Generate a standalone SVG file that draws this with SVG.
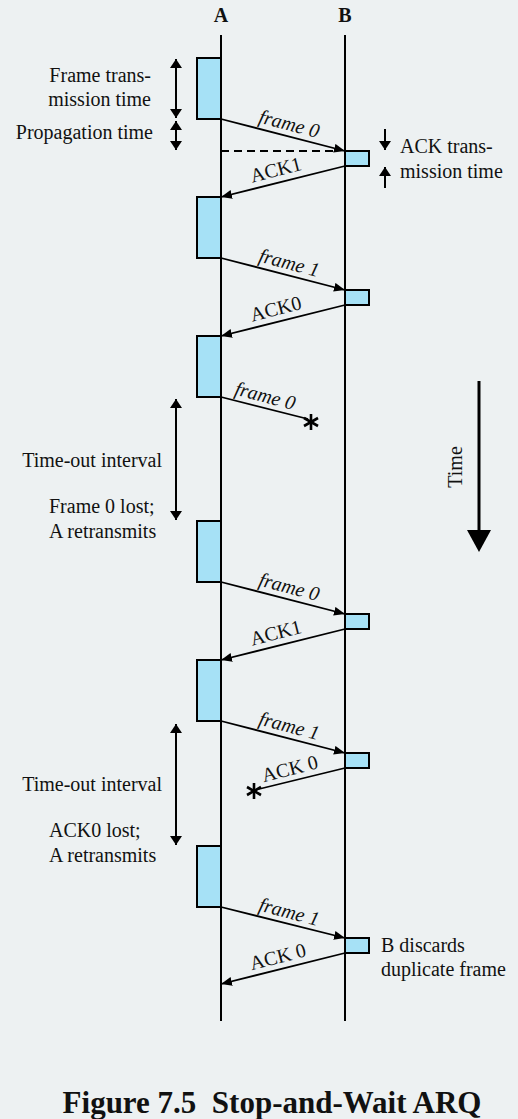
<svg xmlns="http://www.w3.org/2000/svg" width="518" height="1119" viewBox="0 0 518 1119" font-family="Liberation Serif, Times New Roman, serif">
<defs>
<style>
text{font-family:'Liberation Serif','Times New Roman',serif;fill:#111;font-size:20px}
.hd{font-weight:bold;text-anchor:middle}
.lab{font-style:italic;text-anchor:middle}
.ack{text-anchor:middle}
.r{text-anchor:end}
.ln{stroke:#000;stroke-width:2;fill:none}
.box{fill:#A6E1F6;stroke:#000;stroke-width:2}
.msg{stroke:#000;stroke-width:1.8;fill:none;marker-end:url(#ah)}
.dim{stroke:#000;stroke-width:2;fill:none;marker-start:url(#dh);marker-end:url(#dh)}
.one{stroke:#000;stroke-width:2;fill:none;marker-end:url(#dh)}
.star{stroke:#000;stroke-width:2.6;fill:none}
</style>
<marker id="ah" markerUnits="userSpaceOnUse" markerWidth="12" markerHeight="10" refX="11" refY="4.5" orient="auto-start-reverse">
<path d="M0,0 L11,4.5 L0,9 Z" fill="#000"/>
</marker>
<marker id="dh" markerUnits="userSpaceOnUse" markerWidth="10" markerHeight="13" refX="9" refY="6" orient="auto-start-reverse">
<path d="M0,0 L9,6 L0,12 Z" fill="#000"/>
</marker>
</defs>
<rect width="518" height="1119" fill="#EDF1F2"/>

<g id="station-A">
<text class="hd" x="221" y="22">A</text>
<line class="ln" x1="221" y1="35" x2="221" y2="1021"/>
</g>
<g id="station-B">
<text class="hd" x="345" y="22">B</text>
<line class="ln" x1="345" y1="35" x2="345" y2="1021"/>
</g>

<g id="A-frames">
<rect class="box" x="197" y="58" width="24" height="61"/>
<rect class="box" x="197" y="197" width="24" height="61"/>
<rect class="box" x="197" y="336" width="24" height="61"/>
<rect class="box" x="197" y="521" width="24" height="61"/>
<rect class="box" x="197" y="660" width="24" height="61"/>
<rect class="box" x="197" y="846" width="24" height="61"/>
</g>
<g id="B-acks">
<rect class="box" x="345" y="151" width="24" height="15"/>
<rect class="box" x="345" y="290" width="24" height="15"/>
<rect class="box" x="345" y="614" width="24" height="15"/>
<rect class="box" x="345" y="753" width="24" height="15"/>
<rect class="box" x="345" y="938" width="24" height="15"/>
</g>

<g id="connectors">
<line class="msg" x1="221" y1="119" x2="345" y2="151"/>
<line x1="221" y1="151" x2="336" y2="151" stroke="#000" stroke-width="1.8" stroke-dasharray="8,5"/>
<line class="msg" x1="345" y1="166" x2="221" y2="197"/>
<line class="msg" x1="221" y1="258" x2="345" y2="290"/>
<line class="msg" x1="345" y1="305" x2="221" y2="336"/>
<line stroke="#000" stroke-width="1.8" x1="221" y1="397" x2="308" y2="419"/>
<line class="msg" x1="221" y1="582" x2="345" y2="614"/>
<line class="msg" x1="345" y1="629" x2="221" y2="660"/>
<line class="msg" x1="221" y1="721" x2="345" y2="753"/>
<line stroke="#000" stroke-width="1.8" x1="345" y1="768" x2="255" y2="790"/>
<line class="msg" x1="221" y1="907" x2="345" y2="938"/>
<line class="msg" x1="345" y1="953" x2="221" y2="984"/>
</g>

<g id="loss-marks">
<g class="star" transform="translate(311,422)">
<line x1="0" y1="-8" x2="0" y2="8"/>
<line x1="-7" y1="-4" x2="7" y2="4"/>
<line x1="-7" y1="4" x2="7" y2="-4"/>
</g>
<g class="star" transform="translate(254,791)">
<line x1="0" y1="-8" x2="0" y2="8"/>
<line x1="-7" y1="-4" x2="7" y2="4"/>
<line x1="-7" y1="4" x2="7" y2="-4"/>
</g>
</g>

<g id="message-labels">
<text class="lab" transform="translate(286,136) rotate(14.5)" y="-6">frame 0</text>
<text class="ack" transform="translate(279,182) rotate(-14.5)" y="-6">ACK1</text>
<text class="lab" transform="translate(286,275) rotate(14.5)" y="-6">frame 1</text>
<text class="ack" transform="translate(279,321) rotate(-14.5)" y="-6">ACK0</text>
<text class="lab" transform="translate(262,408) rotate(14.5)" y="-6">frame 0</text>
<text class="lab" transform="translate(286,599) rotate(14.5)" y="-6">frame 0</text>
<text class="ack" transform="translate(279,645) rotate(-14.5)" y="-6">ACK1</text>
<text class="lab" transform="translate(286,738) rotate(14.5)" y="-6">frame 1</text>
<text class="ack" transform="translate(293,781) rotate(-14.5)" y="-6">ACK 0</text>
<text class="lab" transform="translate(286,924) rotate(14.5)" y="-6">frame 1</text>
<text class="ack" transform="translate(281,969) rotate(-14.5)" y="-6">ACK 0</text>
</g>

<g id="frame-transmission-time">
<line class="dim" x1="176" y1="59" x2="176" y2="118"/>
<text class="r" x="151" y="82">Frame trans-</text>
<text class="r" x="151" y="106">mission time</text>
</g>
<g id="propagation-time">
<line class="dim" x1="176" y1="121" x2="176" y2="150"/>
<text class="r" x="153" y="139">Propagation time</text>
</g>
<g id="ack-transmission-time">
<line class="one" x1="385" y1="129" x2="385" y2="150"/>
<line class="one" x1="385" y1="188" x2="385" y2="167"/>
<text x="400" y="153">ACK trans-</text>
<text x="400" y="178">mission time</text>
</g>

<g id="timeout-1">
<line class="dim" x1="176" y1="399" x2="176" y2="520"/>
<text class="r" x="162" y="467">Time-out interval</text>
<text x="49" y="513">Frame 0 lost;</text>
<text x="49" y="538">A retransmits</text>
</g>
<g id="timeout-2">
<line class="dim" x1="176" y1="724" x2="176" y2="845"/>
<text class="r" x="162" y="791">Time-out interval</text>
<text x="49" y="837">ACK0 lost;</text>
<text x="49" y="862">A retransmits</text>
</g>

<g id="b-discards">
<text x="381" y="952">B discards</text>
<text x="381" y="976">duplicate frame</text>
</g>

<g id="time-axis">
<line x1="479" y1="381" x2="479" y2="535" stroke="#000" stroke-width="3"/>
<path d="M467,530 L491,530 L479,552 Z" fill="#000"/>
<text class="ack" transform="translate(462,467) rotate(-90)">Time</text>
</g>

<g id="caption">
<text class="hd" x="272" y="1113" xml:space="preserve" style="font-size:31px">Figure 7.5  Stop-and-Wait ARQ</text>
</g>
</svg>
